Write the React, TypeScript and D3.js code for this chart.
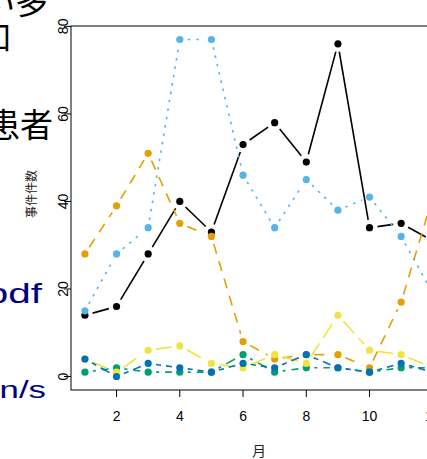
import React from "react";
import * as d3 from "d3";

const months = [1, 2, 3, 4, 5, 6, 7, 8, 9, 10, 11, 12];
const blackCounts = [14, 16, 28, 40, 33, 53, 58, 49, 76, 34, 35, 31];
const orangeCounts = [28, 39, 51, 35, 32, 8, 4, 5, 5, 2, 17, 41];
const skyblueCounts = [15, 28, 34, 77, 77, 46, 34, 45, 38, 41, 32, 19];
const greenCounts = [1, 2, 1, 1, 1, 5, 1, 2, 2, 1, 2, 2];
const yellowCounts = [4, 1, 6, 7, 3, 2, 5, 3, 14, 6, 5, 2];
const blueCounts = [4, 0, 3, 2, 1, 3, 2, 5, 2, 1, 3, 1];
const xTicks = [2, 4, 6, 8, 10, 12];
const yTicks = [0, 20, 40, 60, 80];

const series = [
  { values: blackCounts, color: "#000000", dash: "" },
  { values: orangeCounts, color: "#E69F00", dash: "10,8" },
  { values: skyblueCounts, color: "#56B4E9", dash: "2.5,6" },
  { values: greenCounts, color: "#009E73", dash: "3,6,10,6" },
  { values: yellowCounts, color: "#F0E442", dash: "16,7" },
  { values: blueCounts, color: "#0072B2", dash: "5,5,14,5" },
];

const W = 427;
const H = 459;
const box = { left: 71, right: 446.7, top: 26, bottom: 390 };
const GAP = 8;

// R-style 4% padding on the data range
const pad = (lo: number, hi: number) => {
  const d = (hi - lo) * 0.04;
  return [lo - d, hi + d];
};

export default function App() {
  const all = series.flatMap((s) => s.values);
  const x = d3
    .scaleLinear()
    .domain(pad(1, 12))
    .range([box.left, box.right]);
  const y = d3
    .scaleLinear()
    .domain(pad(d3.min(all)!, d3.max(all)!))
    .range([box.bottom, box.top]);

  const font = "'Liberation Sans', Arial, sans-serif";
  const cjk = "'Noto Sans CJK JP', sans-serif";

  return (
    <svg
      width={W}
      height={H}
      style={{ position: "absolute", left: 0, top: 0, background: "#fff" }}
    >
      <rect width={W} height={H} fill="#fff" />

      {/* lines with gaps around points (type = "b") */}
      {series.map((s, si) => (
        <g key={si}>
          {s.values.slice(0, -1).map((v, i) => {
            const x1 = x(months[i]);
            const y1 = y(v);
            const x2 = x(months[i + 1]);
            const y2 = y(s.values[i + 1]);
            const len = Math.hypot(x2 - x1, y2 - y1);
            if (len <= GAP * 2) return null;
            const ux = (x2 - x1) / len;
            const uy = (y2 - y1) / len;
            return (
              <line
                key={i}
                x1={x1 + ux * GAP}
                y1={y1 + uy * GAP}
                x2={x2 - ux * GAP}
                y2={y2 - uy * GAP}
                stroke={s.color}
                strokeWidth={1.6}
                strokeDasharray={s.dash || undefined}
              />
            );
          })}
          {s.values.map((v, i) => (
            <circle key={i} cx={x(months[i])} cy={y(v)} r={3.6} fill={s.color} />
          ))}
        </g>
      ))}

      {/* plot box */}
      <rect
        x={box.left}
        y={box.top}
        width={box.right - box.left}
        height={box.bottom - box.top}
        fill="none"
        stroke="#000"
        strokeWidth={1}
      />

      {/* x axis */}
      {xTicks.map((t) => (
        <g key={t}>
          <line x1={x(t)} x2={x(t)} y1={box.bottom} y2={box.bottom + 7} stroke="#000" />
          <text
            x={x(t)}
            y={421}
            textAnchor="middle"
            fontSize={14}
            fontFamily={font}
            fill="#000"
          >
            {t}
          </text>
        </g>
      ))}

      {/* y axis */}
      {yTicks.map((t) => (
        <g key={t}>
          <line x1={box.left - 7} x2={box.left} y1={y(t)} y2={y(t)} stroke="#000" />
          <text
            transform={`translate(68,${y(t)}) rotate(-90)`}
            textAnchor="middle"
            fontSize={14}
            fontFamily={font}
            fill="#000"
          >
            {t}
          </text>
        </g>
      ))}

      {/* axis titles */}
      <text
        transform={`translate(36,194) rotate(-90)`}
        textAnchor="middle"
        fontSize={12}
        fontFamily={cjk}
        fill="#222"
      >
        事件件数
      </text>
      <text x={259} y={456} textAnchor="middle" fontSize={14} fontFamily={cjk} fill="#222">
        月
      </text>

      {/* overlapping slide text at left */}
      <g fontFamily={cjk} fontSize={33} fill="#000">
        <text x={48} y={14} textAnchor="end">い多</text>
        <text x={11} y={49} textAnchor="end">増加</text>
        <text x={53} y={137} textAnchor="end">患者</text>
      </g>
      <g fontFamily={font} fill="#000080">
        <text transform="translate(42,303) scale(1.5,1)" textAnchor="end" fontSize={27}>
          pdf
        </text>
        <text transform="translate(46,398) scale(1.45,1)" textAnchor="end" fontSize={24}>
          n/s
        </text>
      </g>
    </svg>
  );
}
